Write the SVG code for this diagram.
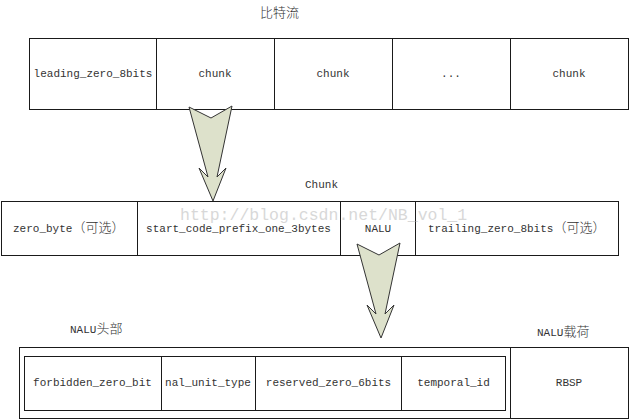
<svg xmlns="http://www.w3.org/2000/svg" width="629" height="419" viewBox="0 0 629 419">
<style>
.box{fill:#fff;stroke:#1a1a1a;stroke-width:1}
.t{font-family:"Liberation Mono","Noto Sans CJK SC",monospace;font-size:11px;fill:#333;text-anchor:middle}
.ts{font-family:"Liberation Mono","Noto Sans CJK SC",monospace;font-size:11px;fill:#333}
.cjk{font-family:"Noto Sans CJK SC",sans-serif;font-size:13px;font-weight:300}
.arrow{fill:#dde1cb;stroke:#333;stroke-width:1;stroke-linejoin:miter}
.wm{font-family:"Liberation Mono",monospace;font-size:16.5px;fill:#aaa;opacity:0.45}
</style>
<defs>
<polygon id="bigArrow" points="189,107 211,118 232,106 217,177 226,168 213,201 199,168 208,177"/>
</defs>
<rect width="629" height="419" fill="#fff"/>

<g id="label-bitstream"><text class="ts" x="260" y="17"><tspan class="cjk" font-size="12.5">比特流</tspan></text></g>

<g id="bitstream">
<rect class="box" x="29.5" y="38.5" width="599" height="71"/>
<line class="box" x1="156.5" y1="38.5" x2="156.5" y2="109.5"/>
<line class="box" x1="274.5" y1="38.5" x2="274.5" y2="109.5"/>
<line class="box" x1="392.5" y1="38.5" x2="392.5" y2="109.5"/>
<line class="box" x1="510.5" y1="38.5" x2="510.5" y2="109.5"/>
<text class="t" x="93" y="77">leading_zero_8bits</text>
<text class="t" x="215" y="77">chunk</text>
<text class="t" x="333" y="77">chunk</text>
<text class="t" x="451" y="77">...</text>
<text class="t" x="569" y="77">chunk</text>
</g>

<g id="label-chunk"><text class="ts" x="305" y="188">Chunk</text></g>

<g id="chunk">
<rect class="box" x="1.5" y="201.5" width="617" height="54"/>
<line class="box" x1="137.5" y1="201.5" x2="137.5" y2="255.5"/>
<line class="box" x1="340.5" y1="201.5" x2="340.5" y2="255.5"/>
<line class="box" x1="415.5" y1="201.5" x2="415.5" y2="255.5"/>
<text class="ts" x="13" y="232">zero_byte<tspan class="cjk">（可选）</tspan></text>
<text class="t" x="238.5" y="232">start_code_prefix_one_3bytes</text>
<text class="t" x="378" y="232">NALU</text>
<text class="ts" x="428" y="232">trailing_zero_8bits<tspan class="cjk">（可选）</tspan></text>
</g>

<g id="label-header"><text class="ts" x="70" y="333">NALU<tspan class="cjk">头部</tspan></text></g>
<g id="label-payload"><text class="ts" x="537" y="336">NALU<tspan class="cjk">载荷</tspan></text></g>

<g id="nalu">
<rect class="box" x="19.5" y="347.5" width="609" height="71"/>
<line class="box" x1="510.5" y1="347.5" x2="510.5" y2="418.5"/>
<g id="nalu-header">
<rect class="box" x="24.5" y="356.5" width="481" height="54"/>
<line class="box" x1="161.5" y1="356.5" x2="161.5" y2="410.5"/>
<line class="box" x1="255.5" y1="356.5" x2="255.5" y2="410.5"/>
<line class="box" x1="401.5" y1="356.5" x2="401.5" y2="410.5"/>
<text class="t" x="92.5" y="386">forbidden_zero_bit</text>
<text class="t" x="208" y="386">nal_unit_type</text>
<text class="t" x="328.5" y="386">reserved_zero_6bits</text>
<text class="t" x="453.5" y="386">temporal_id</text>
</g>
<g id="nalu-payload"><text class="t" x="569" y="386">RBSP</text></g>
</g>

<g id="connectors">
<use href="#bigArrow" class="arrow"/>
<use href="#bigArrow" class="arrow" transform="translate(168,137)"/>
</g>

<text class="wm" x="180" y="220">http://blog.csdn.net/NB_vol_1</text>
</svg>
